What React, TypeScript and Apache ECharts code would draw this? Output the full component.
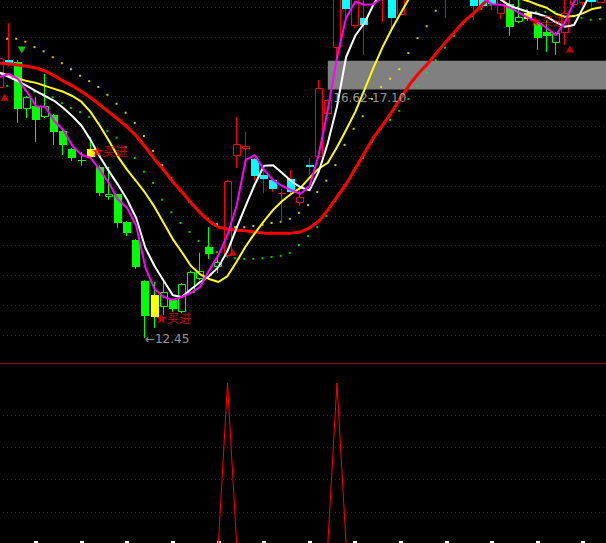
import React, { useEffect, useRef } from 'react';
import * as echarts from 'echarts';

// ---- price panel data (one entry per bar) ----
const OPEN = [16.64, 17.11, 17.08, 16.29, 16.34, 16.16, 16.19, 15.92, 15.62, 15.43, 15.49, 15.32, 14.82, 14.87, 14.40, 14.10, 13.41, 12.80, 12.97, 13.09, 12.89, 13.21, 13.44, 13.98, 13.64, 13.83, 15.50, 15.62, 15.45, 15.19, 15.10, 14.88, 15.12, 14.72, 15.35, 15.49, 16.21, 17.32, 18.46, 17.68, 17.82, 18.29, 18.20, 18.62, 17.87, 18.25, 19.00, 18.55, 18.70, 19.10, 18.45, 19.00, 18.45, 18.37, 18.20, 17.89, 18.05, 17.75, 17.80, 17.73, 17.58, 17.40, 17.57, 18.04, 18.07, 18.29, 18.07];
const CLOSE = [17.15, 17.06, 16.29, 16.49, 16.11, 16.34, 15.91, 15.69, 15.47, 15.44, 15.62, 14.88, 14.87, 14.38, 14.21, 13.64, 12.82, 13.17, 13.22, 12.94, 13.36, 13.56, 13.58, 13.86, 13.73, 15.09, 15.71, 15.67, 15.17, 15.12, 14.95, 14.88, 14.90, 14.82, 15.32, 16.64, 16.44, 18.62, 17.97, 18.62, 17.70, 18.79, 18.60, 17.82, 18.62, 18.88, 18.60, 19.05, 19.10, 18.40, 19.00, 18.50, 18.02, 18.02, 18.05, 18.46, 17.67, 17.83, 17.90, 17.48, 17.52, 17.57, 17.90, 18.54, 18.54, 18.09, 18.54];
const LOW = [16.61, 17.01, 16.06, 16.14, 15.74, 16.14, 15.69, 15.52, 15.42, 15.34, 15.45, 14.83, 14.77, 14.30, 14.16, 13.61, 12.45, 12.62, 12.84, 12.89, 12.87, 13.19, 13.42, 13.78, 13.54, 13.79, 15.30, 15.32, 15.10, 14.88, 14.90, 14.38, 14.88, 14.67, 15.19, 15.47, 16.18, 17.15, 17.83, 17.65, 17.20, 18.20, 17.75, 17.65, 17.87, 18.20, 18.45, 18.50, 18.60, 17.82, 18.35, 18.40, 17.78, 17.99, 17.95, 17.80, 17.52, 17.73, 17.77, 17.28, 17.25, 17.20, 17.37, 17.99, 18.02, 18.00, 18.07];
const HIGH = [17.18, 17.73, 17.11, 16.51, 16.49, 16.88, 16.21, 15.94, 15.64, 15.57, 15.82, 15.35, 15.32, 14.87, 14.41, 14.11, 13.42, 13.39, 13.44, 13.11, 13.37, 13.58, 13.88, 14.31, 13.84, 15.10, 16.16, 15.91, 15.47, 15.30, 15.10, 14.95, 15.27, 15.00, 15.47, 16.78, 16.46, 18.70, 18.50, 18.70, 18.20, 18.85, 18.70, 18.70, 18.70, 18.95, 19.05, 19.10, 19.20, 19.20, 19.05, 19.10, 18.50, 18.40, 18.25, 18.50, 18.17, 18.15, 17.95, 17.78, 17.78, 17.58, 18.15, 18.60, 18.60, 18.35, 18.60];
// 0 = red regime (red hollow up / cyan down), 1 = green regime, 2 = yellow signal bar
const STYLE = [0, 0, 1, 1, 1, 1, 1, 1, 1, 1, 2, 1, 1, 1, 1, 1, 1, 2, 1, 1, 1, 1, 1, 1, 1, 0, 0, 0, 0, 0, 0, 0, 0, 0, 0, 0, 0, 0, 0, 0, 0, 0, 0, 0, 0, 0, 0, 0, 0, 0, 0, 0, 0, 0, 0, 0, 1, 1, 2, 1, 1, 1, 0, 0, 0, 0, 0];

const WHITE = [16.90, 16.83, 16.76, 16.68, 16.59, 16.51, 16.43, 16.31, 16.17, 16.01, 15.77, 15.49, 15.25, 15.02, 14.77, 14.46, 13.96, 13.66, 13.41, 13.17, 13.14, 13.27, 13.39, 13.49, 13.64, 13.91, 14.30, 14.67, 15.03, 15.34, 15.35, 15.22, 15.08, 14.98, 14.93, 15.24, 15.72, 16.33, 17.16, 17.52, 17.73, 18.04, 18.29, 18.49, 18.62, 18.72, 18.79, 18.82, 18.86, 18.87, 18.86, 18.79, 18.66, 18.46, 18.25, 18.12, 18.02, 17.97, 17.92, 17.89, 17.84, 17.75, 17.67, 17.70, 17.99, 18.29, 18.46];
const MAGENTA = [16.83, 16.88, 16.80, 16.58, 16.34, 16.33, 16.09, 15.94, 15.67, 15.52, 15.47, 15.27, 15.05, 14.77, 14.63, 14.33, 13.63, 13.27, 13.14, 13.09, 13.14, 13.21, 13.31, 13.59, 13.84, 14.18, 14.67, 15.44, 15.52, 15.27, 15.10, 15.00, 14.93, 14.87, 15.00, 15.52, 16.28, 17.15, 17.82, 18.09, 18.04, 18.05, 18.17, 18.37, 18.54, 18.62, 18.66, 18.67, 18.66, 18.62, 18.54, 18.42, 18.29, 18.15, 18.05, 18.04, 17.99, 17.90, 17.82, 17.75, 17.65, 17.53, 17.75, 18.09, 18.37, 18.54, 18.62];
const YELLOW = [16.90, 16.86, 16.81, 16.76, 16.73, 16.68, 16.63, 16.58, 16.51, 16.41, 16.24, 16.01, 15.76, 15.49, 15.27, 15.08, 14.88, 14.65, 14.38, 14.11, 13.89, 13.66, 13.52, 13.44, 13.39, 13.49, 13.73, 13.99, 14.21, 14.41, 14.60, 14.75, 14.87, 14.97, 15.14, 15.29, 15.39, 15.65, 15.94, 16.24, 16.61, 16.98, 17.33, 17.63, 17.90, 18.17, 18.42, 18.62, 18.79, 18.92, 18.99, 18.99, 18.92, 18.79, 18.62, 18.46, 18.29, 18.15, 18.10, 18.04, 17.99, 17.89, 17.84, 17.85, 17.90, 17.97, 18.00];
const RED = [17.06, 17.05, 17.03, 17.01, 16.98, 16.93, 16.85, 16.76, 16.68, 16.58, 16.48, 16.36, 16.24, 16.12, 15.99, 15.84, 15.65, 15.45, 15.27, 15.07, 14.90, 14.72, 14.55, 14.41, 14.31, 14.28, 14.26, 14.25, 14.23, 14.21, 14.21, 14.21, 14.21, 14.23, 14.30, 14.41, 14.60, 14.82, 15.03, 15.29, 15.55, 15.81, 16.02, 16.24, 16.48, 16.71, 16.90, 17.06, 17.25, 17.43, 17.60, 17.77, 17.90, 18.05, 18.19, 18.30, 18.41, 18.49, 18.56, 18.61, 18.66, 18.69, 18.72, 18.76, 18.79, 18.82, 18.86];
const UPPER = [17.48, 17.47, 17.47, 17.42, 17.33, 17.26, 17.16, 17.06, 16.96, 16.85, 16.76, 16.66, 16.53, 16.38, 16.23, 16.06, 15.84, 15.59, 15.35, 15.13, 14.92, 14.73, 14.58, 14.45, 14.36, 14.33, 14.31, 14.31, 14.33, 14.35, 14.38, 14.40, 14.45, 14.55, 14.68, 14.90, 15.09, 15.35, 15.69, 15.96, 16.17, 16.46, 16.66, 16.80, 16.96, 17.23, 17.48, 17.68, 17.94, 18.17, 18.37, 18.54, 18.71, 18.82, 18.92, 18.99, 19.04, 19.08, 19.09, 19.09, 19.08, 19.06, 19.03, 18.99, 18.96, 18.92, 18.89];
const LOWER = [16.69, 16.68, 16.64, 16.61, 16.58, 16.54, 16.49, 16.39, 16.31, 16.24, 16.16, 16.06, 15.92, 15.81, 15.65, 15.47, 15.24, 15.05, 14.77, 14.56, 14.38, 14.23, 14.08, 13.98, 13.89, 13.83, 13.79, 13.78, 13.78, 13.79, 13.81, 13.83, 13.88, 14.01, 14.16, 14.31, 14.50, 14.75, 15.02, 15.27, 15.47, 15.74, 15.96, 16.11, 16.26, 16.46, 16.68, 16.90, 17.11, 17.32, 17.52, 17.72, 17.85, 17.97, 18.04, 18.07, 18.05, 18.00, 17.95, 17.92, 17.92, 17.92, 17.89, 17.85, 17.82, 17.79, 17.80];

// ---- sub panel ----
const SIGNAL = [0, 0, 0, 0, 0, 0, 0, 0, 0, 0, 0, 0, 0, 0, 0, 0, 0, 0, 0, 0, 0, 0, 0, 0, 0, 100, 0, 0, 0, 0, 0, 0, 0, 0, 0, 0, 0, 100, 0, 0, 0, 0, 0, 0, 0, 0, 0, 0, 0, 0, 0, 0, 0, 0, 0, 0, 0, 0, 0, 0, 0, 0, 0, 0, 0, 0, 0];

// ---- markers / annotations ----
const BUY_ARROWS = [[0, 16.49], [25, 13.89], [62, 17.30]];
const SELL_ARROWS = [[2, 17.28]];
const BUY_LABELS = [[10, 15.59], [17, 12.80], [58, 17.77]];
const LOW_MARK = [16, 12.45];
const BAND = [16.62, 17.10];
const BAND_START = 36;

// ---- axis ranges / grid levels ----
const TOP_MIN = 12.032;
const TOP_MAX = 18.12;
const SUB_MAX = 111.8;
const TOP_GRID_LEVELS = [12.5, 13.0, 13.5, 14.0, 14.5, 15.0, 15.5, 16.0, 16.5, 17.0, 17.5, 18.0];
const SUB_GRID_LEVELS = [20, 40, 60, 80];

const CATS = OPEN.map((_, i) => String(i));

function renderCandle(params: any, api: any) {
  const i = api.value(0);
  const o = api.value(1);
  const c = api.value(2);
  const lo = api.value(3);
  const hi = api.value(4);
  const s = api.value(5);
  const pO = api.coord([i, o]);
  const pC = api.coord([i, c]);
  const pL = api.coord([i, lo]);
  const pH = api.coord([i, hi]);
  const cx = Math.round(pO[0]);
  const w = 8;
  const left = cx - 4;
  const yTop = Math.round(Math.min(pO[1], pC[1]));
  const yBot = Math.round(Math.max(pO[1], pC[1]));
  const up = c >= o;
  let wick = '#ff0000';
  let color = '#ff0000';
  let hollow = false;
  if (s === 2) {
    wick = '#00ff00';
    color = '#ffff00';
  } else if (s === 1) {
    wick = '#00ff00';
    color = '#00ff00';
    hollow = up;
  } else {
    wick = '#ff0000';
    color = up ? '#ff0000' : '#00ffff';
    hollow = up;
  }
  const wx = cx - 0.5;
  const children: any[] = [
    { type: 'line', shape: { x1: wx, y1: pH[1], x2: wx, y2: pL[1] }, style: { stroke: wick, lineWidth: 1 } },
  ];
  if (yBot - yTop < 1) {
    children.push({ type: 'line', shape: { x1: left, y1: yTop + 0.5, x2: left + w, y2: yTop + 0.5 }, style: { stroke: color, lineWidth: 1 } });
  } else if (hollow) {
    children.push({ type: 'rect', shape: { x: left + 0.5, y: yTop + 0.5, width: w - 1, height: Math.max(1, yBot - yTop - 1) }, style: { fill: '#000000', stroke: color, lineWidth: 1 } });
  } else {
    children.push({ type: 'rect', shape: { x: left, y: yTop, width: w, height: yBot - yTop }, style: { fill: color } });
  }
  return { type: 'group', children };
}

const dotted = (color: string) => ({ color, width: 1, type: [1, 3] as any });

function buildOption(): any {
  const numFont = '"DejaVu Sans", sans-serif';
  return {
    animation: false,
    backgroundColor: '#000000',
    grid: [
      { left: -5.06, top: 0, width: 611.04, height: 363, outerBoundsMode: 'none' },
      { left: -5.06, top: 364, width: 611.04, height: 180, outerBoundsMode: 'none' },
    ],
    xAxis: [
      {
        type: 'category', gridIndex: 0, data: CATS, boundaryGap: true,
        axisLine: { show: true, lineStyle: { color: '#a00000', width: 1 } },
        axisTick: { show: false }, axisLabel: { show: false }, splitLine: { show: false },
      },
      {
        type: 'category', gridIndex: 1, data: CATS, boundaryGap: true,
        axisLine: { show: false },
        axisTick: {
          show: true, inside: true, length: 3, alignWithLabel: true,
          interval: (idx: number) => idx % 5 === 4,
          lineStyle: { color: '#ffffff', width: 4 },
        },
        axisLabel: { show: false }, splitLine: { show: false },
      },
    ],
    yAxis: [
      { type: 'value', gridIndex: 0, min: TOP_MIN, max: TOP_MAX, axisLine: { show: false }, axisTick: { show: false }, axisLabel: { show: false }, splitLine: { show: false } },
      { type: 'value', gridIndex: 1, min: 0, max: SUB_MAX, axisLine: { show: false }, axisTick: { show: false }, axisLabel: { show: false }, splitLine: { show: false } },
    ],
    series: [
      {
        name: 'upper', type: 'scatter', xAxisIndex: 0, yAxisIndex: 0, z: 2, silent: true,
        symbol: 'rect', symbolSize: 2, symbolOffset: [-1.5, 0],
        itemStyle: { color: '#ffff00' },
        data: UPPER.map((v, i) => [i, v]),
        markLine: {
          silent: true, z: 0, symbol: ['none', 'none'], label: { show: false },
          lineStyle: dotted('#a00000'),
          data: TOP_GRID_LEVELS.map((v) => ({ yAxis: v })),
        },
        markArea: {
          silent: true, z: 1, itemStyle: { color: '#808080', opacity: 1 }, label: { show: false },
          data: [[{ xAxis: BAND_START, yAxis: BAND[1] }, { yAxis: BAND[0] }]],
        },
      },
      {
        name: 'lower', type: 'scatter', xAxisIndex: 0, yAxisIndex: 0, z: 2, silent: true,
        symbol: 'rect', symbolSize: 2, symbolOffset: [-1.5, 0],
        itemStyle: { color: '#00ff00' },
        data: LOWER.map((v, i) => [i, v]),
      },
      {
        name: 'k', type: 'custom', xAxisIndex: 0, yAxisIndex: 0, z: 3, clip: true, silent: true,
        renderItem: renderCandle,
        encode: { x: 0, y: [1, 2, 3, 4] },
        data: OPEN.map((o, i) => [i, o, CLOSE[i], LOW[i], HIGH[i], STYLE[i]]),
      },
      { name: 'red', type: 'line', xAxisIndex: 0, yAxisIndex: 0, z: 4, silent: true, symbol: 'none', data: RED, lineStyle: { color: '#ff0000', width: 3 } },
      { name: 'yellow', type: 'line', xAxisIndex: 0, yAxisIndex: 0, z: 4, silent: true, symbol: 'none', data: YELLOW, lineStyle: { color: '#ffff00', width: 2 } },
      { name: 'white', type: 'line', xAxisIndex: 0, yAxisIndex: 0, z: 4, silent: true, symbol: 'none', data: WHITE, lineStyle: { color: '#ffffff', width: 2 } },
      { name: 'magenta', type: 'line', xAxisIndex: 0, yAxisIndex: 0, z: 4, silent: true, symbol: 'none', data: MAGENTA, lineStyle: { color: '#ff00ff', width: 2 } },
      {
        name: 'buyArrow', type: 'scatter', xAxisIndex: 0, yAxisIndex: 0, z: 5, silent: true,
        symbol: 'triangle', symbolSize: [8, 7], symbolOffset: [5, 0],
        itemStyle: { color: '#ff0000' }, data: BUY_ARROWS,
      },
      {
        name: 'sellArrow', type: 'scatter', xAxisIndex: 0, yAxisIndex: 0, z: 5, silent: true,
        symbol: 'triangle', symbolRotate: 180, symbolSize: [8, 7], symbolOffset: [4, 0],
        itemStyle: { color: '#00ff00' }, data: SELL_ARROWS,
      },
      {
        name: 'buyText', type: 'scatter', xAxisIndex: 0, yAxisIndex: 0, z: 6, silent: true,
        symbolSize: 1, itemStyle: { color: 'rgba(0,0,0,0)' },
        label: {
          show: true, position: 'right', distance: 0, formatter: '★买进',
          color: '#ff0000', fontSize: 12, fontFamily: '"Noto Sans CJK SC", sans-serif',
        },
        data: BUY_LABELS,
      },
      {
        name: 'notes', type: 'scatter', xAxisIndex: 0, yAxisIndex: 0, z: 6, silent: true,
        symbolSize: 1, itemStyle: { color: 'rgba(0,0,0,0)' },
        label: { show: true, position: 'right', distance: 0, color: '#c0c0c0', fontSize: 12, fontFamily: numFont },
        data: [
          { value: LOW_MARK, label: { formatter: '←' + LOW_MARK[1].toFixed(2), offset: [-1, 1] } },
          { value: [BAND_START, BAND[0]], label: { formatter: BAND[0].toFixed(2) + '-' + BAND[1].toFixed(2), offset: [5, 9] } },
        ],
      },
      {
        name: 'signal', type: 'line', xAxisIndex: 1, yAxisIndex: 1, z: 4, silent: true, symbol: 'none',
        data: SIGNAL, lineStyle: { color: '#ff0000', width: 1 },
        markLine: {
          silent: true, z: 0, symbol: ['none', 'none'], label: { show: false },
          lineStyle: dotted('#a00000'),
          data: SUB_GRID_LEVELS.map((v) => ({ yAxis: v })),
        },
      },
    ],
  };
}

export default function App() {
  const ref = useRef<HTMLDivElement>(null);
  useEffect(() => {
    if (!ref.current) return;
    const chart = echarts.init(ref.current, null, { renderer: 'svg' });
    chart.setOption(buildOption());
    return () => {
      chart.dispose();
    };
  }, []);
  return (
    <div
      ref={ref}
      style={{ position: 'fixed', left: 0, top: 0, width: 606, height: 543, background: '#000000' }}
    />
  );
}
